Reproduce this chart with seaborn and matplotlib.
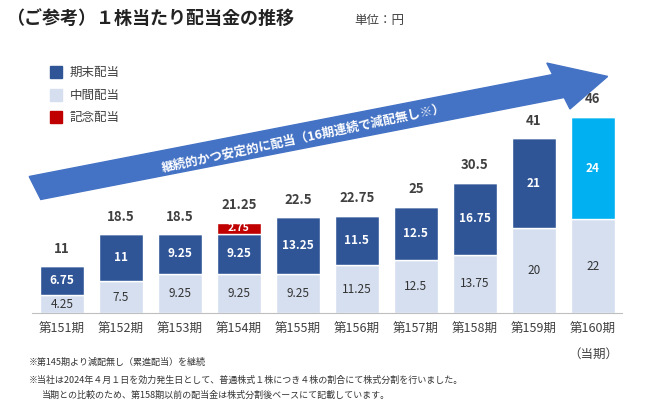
import matplotlib
matplotlib.use("Agg")
import matplotlib.pyplot as plt
import seaborn as sns
import pandas as pd
from matplotlib.patches import FancyArrow

sns.set_style("white")
plt.rcParams['font.family'] = ['Noto Sans CJK JP', 'DejaVu Sans']

periods = ["第151期","第152期","第153期","第154期","第155期","第156期","第157期","第158期","第159期","第160期"]
interim = [4.25,7.5,9.25,9.25,9.25,11.25,12.5,13.75,20,22]
yearend = [6.75,11,9.25,9.25,13.25,11.5,12.5,16.75,21,24]
commem = [0,0,0,2.75,0,0,0,0,0,0]
totals = ["11","18.5","18.5","21.25","22.5","22.75","25","30.5","41","46"]

DARK = "#2F5597"; LIGHT = "#D6DFF0"; RED = "#C00000"; CYAN = "#00B0F0"

fig = plt.figure(figsize=(6.45,4.01), dpi=100)
ax = fig.add_axes([0.05, 0.219, 0.915, 0.681])
df = pd.DataFrame({"p": periods, "i": interim, "y": yearend, "c": commem})
sns.barplot(data=df, x="p", y="i", color=LIGHT, width=0.75, ax=ax, saturation=1)
top_cols = [DARK]*9 + [CYAN]
ax.bar(range(10), yearend, bottom=interim, color=top_cols, width=0.75)
bot2 = [a+b for a,b in zip(interim, yearend)]
ax.bar(range(10), commem, bottom=bot2, color=RED, width=0.75)
for k in range(10):
    ax.text(k, interim[k]/2, f"{interim[k]:g}", ha="center", va="center", fontsize=8.5, color="#333333")
    ax.text(k, interim[k]+yearend[k]/2, f"{yearend[k]:g}", ha="center", va="center", fontsize=8.5, color="white", fontweight="bold")
    if commem[k]:
        ax.text(k, bot2[k]+commem[k]/2, f"{commem[k]:g}", ha="center", va="center", fontsize=7.5, color="white", fontweight="bold")
    ax.text(k, bot2[k]+commem[k]+2.5, totals[k], ha="center", va="bottom", fontsize=9.5, fontweight="bold", color="#404040")
ax.set_xlim(-0.5, 9.5); ax.set_ylim(0, 64)
ax.set_xlabel(""); ax.set_ylabel(""); ax.set_yticks([])
ax.tick_params(axis="x", length=0, labelsize=9, colors="#404040", pad=7)
for s in ["top","right","left"]:
    ax.spines[s].set_visible(False)
ax.spines["bottom"].set_color("#BFBFBF")
ax.text(9, -8, "（当期）", ha="center", va="top", fontsize=9, color="#404040")

arr = FancyArrow(35/645, 1-188/401, 575/645-0.08, (188-78)/401-0.02, width=0.06, head_width=0.12,
                 head_length=0.08, length_includes_head=False, transform=fig.transFigure, color="#4472C4")
fig.patches.append(arr)
fig.text(0.47, 0.655, "継続的かつ安定的に配当（16期連続で減配無し※）", rotation=12, ha="center", va="center",
         color="white", fontsize=9, fontweight="bold")

fig.text(0.01, 0.94, "（ご参考）１株当たり配当金の推移", fontsize=13, fontweight="bold", color="#222222")
fig.text(0.55, 0.94, "単位：円", fontsize=9, color="#404040")
for yy, c, lab in [(72, DARK, "期末配当"), (95, LIGHT, "中間配当"), (117, RED, "記念配当")]:
    fig.patches.append(plt.Rectangle((50/645, 1-(yy+6)/401), 12/645, 12/401, color=c, transform=fig.transFigure))
    fig.text(70/645, 1-yy/401, lab, fontsize=9, va="center", color="#404040")

fig.text(0.045, 0.09, "※第145期より減配無し（累進配当）を継続", fontsize=6.5, color="#333333")
fig.text(0.045, 0.045, "※当社は2024年４月１日を効力発生日として、普通株式１株につき４株の割合にて株式分割を行いました。", fontsize=6.5, color="#333333")
fig.text(0.065, 0.008, "当期との比較のため、第158期以前の配当金は株式分割後ベースにて記載しています。", fontsize=6.5, color="#333333")
fig.savefig("out.png", dpi=100)
